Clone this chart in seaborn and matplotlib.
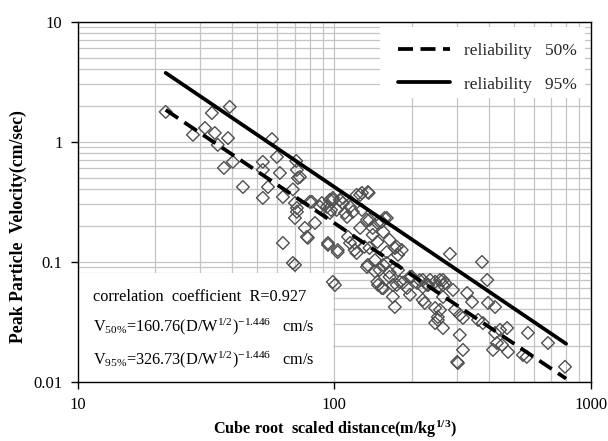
import matplotlib
matplotlib.use("Agg")
import matplotlib.pyplot as plt
import seaborn as sns
import pandas as pd
from matplotlib.patches import Rectangle
from matplotlib.ticker import LogLocator, FixedLocator, FixedFormatter, NullFormatter

# ---- data ----
scaled_distance = [
    22.0, 33.3, 39.1, 28.1, 31.3, 34.2, 35.1, 38.5, 37.1, 40.2, 44.0, 57.1, 52.6, 52.6,
    59.7, 61.3, 71.0, 71.4, 73.4, 52.6, 55.1, 63.0, 68.9, 71.4, 80.2, 87.8, 98.6, 108,
    122, 70.2, 63.0, 68.9, 76.7, 78.1, 72.1, 70.2, 71.4, 78.8, 84.0, 81.7, 89.4, 96.0,
    105, 96.0, 102, 110, 115, 128, 136, 128, 137, 147, 157, 94.4, 103, 113, 120, 122,
    131, 141, 147, 155, 164, 175, 183, 134, 144, 150, 160, 164, 147, 153, 169, 180,
    192, 197, 210, 221, 225, 236, 253, 265, 265, 247, 172, 98.6, 100.5, 70.2, 282, 253,
    376, 394, 221, 232, 258, 270, 221, 258, 247, 253, 265, 290, 295, 308, 317, 329,
    344, 363, 379, 397, 423, 308, 317, 301, 303, 423, 442, 471, 430, 450, 415, 475,
    568, 680, 543, 562, 792,
    135, 126, 98.6, 108, 93.5, 97, 112, 118, 134, 153, 160, 126, 141, 94.4, 103, 115,
    120, 137, 160, 172, 177, 135, 144, 155, 164, 177, 148, 155, 175, 185, 200, 215,
    230, 247, 265, 169, 197,
]
ppv = [
    1.77, 1.73, 1.95, 1.14, 1.30, 1.18, 0.94, 1.07, 0.604, 0.678, 0.419, 1.05, 0.678, 0.581,
    0.746, 0.548, 0.69, 0.581, 0.508, 0.340, 0.419, 0.346, 0.40, 0.280, 0.315, 0.286, 0.327, 0.308,
    0.360, 0.231, 0.143, 0.0975, 0.191, 0.161, 0.498, 0.308, 0.260, 0.158, 0.210, 0.315, 0.308, 0.327,
    0.327, 0.255, 0.270, 0.255, 0.286, 0.374, 0.374, 0.270, 0.223, 0.210, 0.231, 0.143, 0.125, 0.161, 0.143, 0.118,
    0.133, 0.167, 0.146, 0.177, 0.152, 0.133, 0.125, 0.0904, 0.103, 0.0853, 0.0975, 0.0746, 0.0678, 0.0604, 0.0639, 0.0678,
    0.0604, 0.0746, 0.0665, 0.0615, 0.0453, 0.0704, 0.0615, 0.0704, 0.0508, 0.0411, 0.0419, 0.0678, 0.0639, 0.0939, 0.116, 0.0346,
    0.0994, 0.0704, 0.0704, 0.0639, 0.0704, 0.0665, 0.0480, 0.0396, 0.0308, 0.0327, 0.0280, 0.0581, 0.0396, 0.0360, 0.0340, 0.0548,
    0.0461, 0.0327, 0.0308, 0.0453, 0.0419, 0.0245, 0.0184, 0.0146, 0.0143, 0.0255, 0.0270, 0.0280, 0.0210, 0.0202, 0.0184, 0.0177,
    0.0255, 0.0210, 0.0167, 0.0161, 0.0133,
    0.38, 0.36, 0.34, 0.34, 0.286, 0.27, 0.236, 0.26, 0.223, 0.215, 0.231, 0.191, 0.191, 0.138, 0.12, 0.143,
    0.125, 0.13, 0.12, 0.13, 0.114, 0.094, 0.083, 0.094, 0.081, 0.085, 0.064, 0.06, 0.064, 0.067, 0.075, 0.07,
    0.064, 0.068, 0.064, 0.051, 0.053,
]

fit_distance = [22, 800]
ppv_50 = [1.84, 0.0106]   # V50% = 160.76 (D/W^1/2)^-1.446
ppv_95 = [3.74, 0.0207]   # V95% = 326.73 (D/W^1/2)^-1.446

legend_labels = ["reliability   50%", "reliability   95%"]
x_ticks = [10, 100, 1000]
x_tick_labels = ["10", "100", "1000"]
y_ticks = [0.01, 0.1, 1, 10]
y_tick_labels = ["0.01", "0.1", "1", "10"]
note_lines = [
    "correlation  coefficient  R=0.927",
    r"V$_{50\%}$=160.76(D/W$^{1/2}$)$^{-1.446}$   cm/s",
    r"V$_{95\%}$=326.73(D/W$^{1/2}$)$^{-1.446}$   cm/s",
]

df = pd.DataFrame({"distance": scaled_distance, "ppv": ppv})

# ---- style ----
sns.set_theme(style="white")
plt.rcParams['font.family'] = ['Liberation Serif', 'DejaVu Serif']
plt.rcParams['mathtext.fontset'] = 'custom'
plt.rcParams['mathtext.rm'] = 'Liberation Serif'
plt.rcParams['mathtext.it'] = 'Liberation Serif:italic'
plt.rcParams['mathtext.bf'] = 'Liberation Serif:bold'

fig = plt.figure(figsize=(6.08, 4.41), dpi=100)
ax = fig.add_axes([0.128, 0.1345, 0.844, 0.8165])
ax.set_xscale('log')
ax.set_yscale('log')

sns.scatterplot(data=df, x="distance", y="ppv", ax=ax, marker='D', s=42,
                facecolor='none', edgecolor='#505050', linewidth=1.0, zorder=3)
ax.collections[-1].set_facecolor('none')

sns.lineplot(x=fit_distance, y=ppv_50, ax=ax, color='black', lw=2.7,
             linestyle=(0, (4, 2)), zorder=4)
sns.lineplot(x=fit_distance, y=ppv_95, ax=ax, color='black', lw=2.7, zorder=4)
l50, l95 = ax.lines[0], ax.lines[1]

ax.set_xlim(10, 1000)
ax.set_ylim(0.01, 10)

ax.xaxis.set_major_locator(FixedLocator(x_ticks))
ax.xaxis.set_major_formatter(FixedFormatter(x_tick_labels))
ax.yaxis.set_major_locator(FixedLocator(y_ticks))
ax.yaxis.set_major_formatter(FixedFormatter(y_tick_labels))
ax.xaxis.set_minor_locator(LogLocator(base=10, subs=range(2, 10), numticks=20))
ax.yaxis.set_minor_locator(LogLocator(base=10, subs=range(2, 10), numticks=20))
ax.xaxis.set_minor_formatter(NullFormatter())
ax.yaxis.set_minor_formatter(NullFormatter())

ax.set_axisbelow(True)
ax.grid(True, which='both', color='#c4c4c4', lw=0.9)
ax.tick_params(which='major', direction='out', length=5, width=1, colors='black',
               bottom=True, left=True, pad=6)
ax.tick_params(which='minor', length=0)
for lab in ax.get_xticklabels() + ax.get_yticklabels():
    lab.set_fontsize(12)
for sp in ax.spines.values():
    sp.set_color('black')
    sp.set_linewidth(1.0)

# white boxes behind legend and note
ax.add_patch(Rectangle((0.589, 0.788), 0.399, 0.197, transform=ax.transAxes,
                       facecolor='white', edgecolor='none', zorder=1))
ax.add_patch(Rectangle((0.0, 0.0), 0.497, 0.302, transform=ax.transAxes,
                       facecolor='white', edgecolor='none', zorder=1))

for txt, yy in zip(note_lines, [0.235, 0.152, 0.060]):
    ax.text(0.029, yy, txt, transform=ax.transAxes, fontsize=11.7, va='center',
            ha='left', color='black', zorder=5)

ax.legend(handles=[l50, l95], labels=legend_labels, loc='center left',
          bbox_to_anchor=(0.624, 0.872), frameon=False, handlelength=3.0,
          handletextpad=0.8, labelspacing=1.0, fontsize=12.5, borderpad=0,
          borderaxespad=0)

ax.set_xlabel(r"Cube root  scaled distance(m/kg$^{\mathbf{1/3}}$)", fontweight='bold',
              fontsize=11.7, color='black')
ax.xaxis.set_label_coords(0.5, -0.102)
ax.set_ylabel("Peak Particle  Velocity(cm/sec)", fontweight='bold', fontsize=12.8,
              color='black')
ax.yaxis.set_label_coords(-0.1, 0.43)

fig.savefig("out.png", dpi=100)
